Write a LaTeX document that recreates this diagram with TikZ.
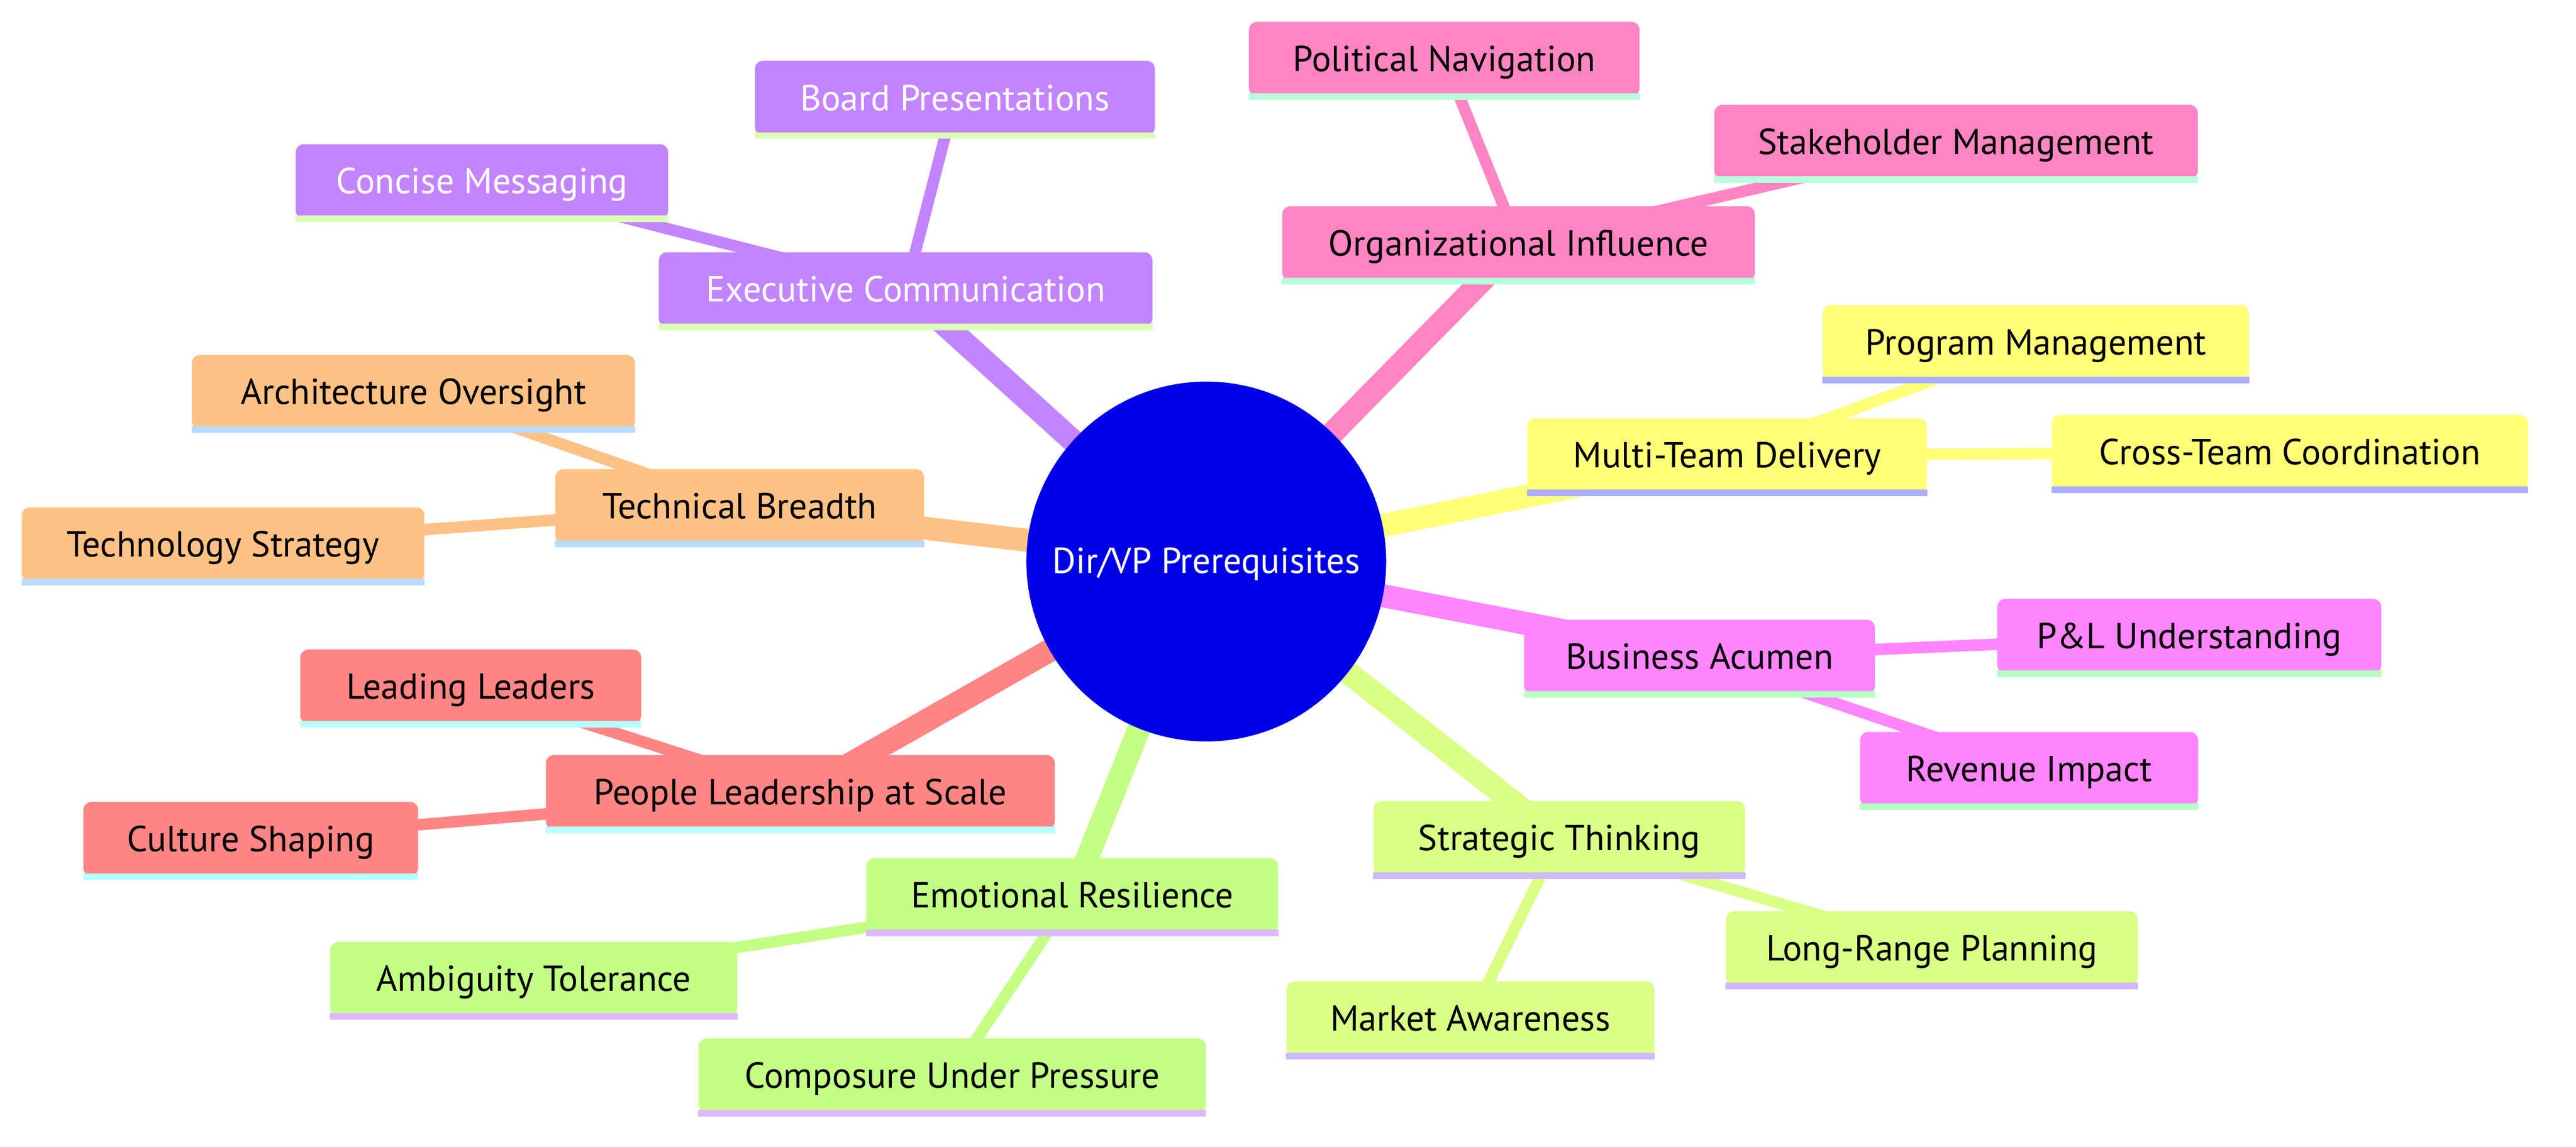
\documentclass[tikz,border=0pt]{standalone}
\usepackage{fontspec}
\setmainfont{PT Sans}
\usepackage{tikz}
\usetikzlibrary{backgrounds}
\definecolor{fillroot}{RGB}{0, 0, 232}
\definecolor{fillpink}{RGB}{255, 133, 194}
\definecolor{fillyellow}{RGB}{255, 255, 120}
\definecolor{fillmagenta}{RGB}{255, 133, 255}
\definecolor{filllime}{RGB}{217, 255, 133}
\definecolor{fillgreen}{RGB}{196, 255, 133}
\definecolor{fillsalmon}{RGB}{255, 133, 133}
\definecolor{fillorange}{RGB}{255, 194, 133}
\definecolor{fillpurple}{RGB}{194, 133, 255}
\definecolor{barpink}{RGB}{184, 255, 220}
\definecolor{baryellow}{RGB}{173, 173, 255}
\definecolor{barmagenta}{RGB}{184, 255, 196}
\definecolor{barlime}{RGB}{208, 184, 255}
\definecolor{bargreen}{RGB}{221, 184, 255}
\definecolor{barsalmon}{RGB}{184, 255, 255}
\definecolor{barorange}{RGB}{184, 220, 255}
\definecolor{barpurple}{RGB}{220, 255, 184}
\tikzstyle{branch}=[rectangle, rounded corners=5pt, inner sep=0pt, text centered, minimum height=45.25pt, text height=19pt, text depth=4pt, font=\fontsize{22}{24}\selectfont]
\tikzstyle{topic}=[circle, fill=fillroot, text=white, inner sep=0pt, minimum size=219pt, text height=18pt, text depth=4pt, font=\fontsize{22}{24}\selectfont]
\tikzstyle{bar}=[line width=4pt]
\tikzstyle{trunk}=[line width=14pt]
\tikzstyle{twig}=[line width=7pt]

\begin{document}
\begin{tikzpicture}[node distance=0pt]
      %
      \path[use as bounding box] (0pt,0pt) rectangle (1568pt,-698pt);
      %
      \path node[topic] at (734.25pt,-341.75pt) (root) {Dir/VP Prerequisites};
      %
      % Organizational Influence
      %
      \path node[branch, fill=fillpink, minimum width=287.75pt, right of=root, xshift=190.1pt, yshift=193.6pt] (influence) {Organizational Influence};
      \path node[branch, fill=fillpink, minimum width=237.75pt, left of=influence, xshift=-45.25pt, yshift=112.25pt] (political) {Political Navigation};
      \path node[branch, fill=fillpink, minimum width=294.25pt, right of=influence, xshift=266.25pt, yshift=61.75pt] (stakeholder) {Stakeholder Management};
      \path [draw=barpink, bar] (influence.south west) -- (influence.south east);
      \path [draw=barpink, bar] (political.south west) -- (political.south east);
      \path [draw=barpink, bar] (stakeholder.south west) -- (stakeholder.south east);
      %
      % Multi-Team Delivery
      %
      \path node[branch, fill=fillyellow, minimum width=243.25pt, right of=root, xshift=317.1pt, yshift=64.6pt] (delivery) {Multi-Team Delivery};
      \path node[branch, fill=fillyellow, minimum width=259.5pt, right of=delivery, xshift=187.9pt, yshift=68.75pt] (program) {Program Management};
      \path node[branch, fill=fillyellow, minimum width=289.75pt, right of=delivery, xshift=342.5pt, yshift=2pt] (crossteam) {Cross-Team Coordination};
      \path [draw=baryellow, bar] (delivery.south west) -- (delivery.south east);
      \path [draw=baryellow, bar] (program.south west) -- (program.south east);
      \path [draw=baryellow, bar] (crossteam.south west) -- (crossteam.south east);
      %
      % Business Acumen
      %
      \path node[branch, fill=fillmagenta, minimum width=213.5pt, right of=root, xshift=300.25pt, yshift=-58.1pt] (business) {Business Acumen};
      \path node[branch, fill=fillmagenta, minimum width=233.75pt, right of=business, xshift=298.1pt, yshift=12.75pt] (pnl) {P\&L Understanding};
      \path node[branch, fill=fillmagenta, minimum width=205.75pt, right of=business, xshift=200.6pt, yshift=-68.25pt] (revenue) {Revenue Impact};
      \path [draw=barmagenta, bar] (business.south west) -- (business.south east);
      \path [draw=barmagenta, bar] (pnl.south west) -- (pnl.south east);
      \path [draw=barmagenta, bar] (revenue.south west) -- (revenue.south east);
      %
      % Strategic Thinking
      %
      \path node[branch, fill=filllime, minimum width=226.25pt, right of=root, xshift=214.9pt, yshift=-168.4pt] (strategic) {Strategic Thinking};
      \path node[branch, fill=filllime, minimum width=250.75pt, right of=strategic, xshift=226.75pt, yshift=-67pt] (longrange) {Long-Range Planning};
      \path node[branch, fill=filllime, minimum width=224pt, left of=strategic, xshift=-54.1pt, yshift=-109.75pt] (market) {Market Awareness};
      \path [draw=barlime, bar] (strategic.south west) -- (strategic.south east);
      \path [draw=barlime, bar] (longrange.south west) -- (longrange.south east);
      \path [draw=barlime, bar] (market.south west) -- (market.south east);
      %
      % Emotional Resilience
      %
      \path node[branch, fill=fillgreen, minimum width=250.75pt, left of=root, xshift=-81.6pt, yshift=-203.1pt] (emotional) {Emotional Resilience};
      \path node[branch, fill=fillgreen, minimum width=247.75pt, left of=emotional, xshift=-327.75pt, yshift=-51pt] (ambiguity) {Ambiguity Tolerance};
      \path node[branch, fill=fillgreen, minimum width=308.75pt, left of=emotional, xshift=-73pt, yshift=-109.75pt] (composure) {Composure Under Pressure};
      \path [draw=bargreen, bar] (emotional.south west) -- (emotional.south east);
      \path [draw=bargreen, bar] (ambiguity.south west) -- (ambiguity.south east);
      \path [draw=bargreen, bar] (composure.south west) -- (composure.south east);
      %
      % People Leadership at Scale
      %
      \path node[branch, fill=fillsalmon, minimum width=309.75pt, left of=root, xshift=-247.1pt, yshift=-140.4pt] (people) {People Leadership at Scale};
      \path node[branch, fill=fillsalmon, minimum width=207.5pt, left of=people, xshift=-200.6pt, yshift=64.25pt] (leaders) {Leading Leaders};
      \path node[branch, fill=fillsalmon, minimum width=203.75pt, left of=people, xshift=-334.5pt, yshift=-28.5pt] (culture) {Culture Shaping};
      \path [draw=barsalmon, bar] (people.south west) -- (people.south east);
      \path [draw=barsalmon, bar] (leaders.south west) -- (leaders.south east);
      \path [draw=barsalmon, bar] (culture.south west) -- (culture.south east);
      %
      % Technical Breadth
      %
      \path node[branch, fill=fillorange, minimum width=224.5pt, left of=root, xshift=-284pt, yshift=33.6pt] (technical) {Technical Breadth};
      \path node[branch, fill=fillorange, minimum width=269.75pt, left of=technical, xshift=-198.6pt, yshift=69.5pt] (architecture) {Architecture Oversight};
      \path node[branch, fill=fillorange, minimum width=245pt, left of=technical, xshift=-314.5pt, yshift=-23.25pt] (techstrategy) {Technology Strategy};
      \path [draw=barorange, bar] (technical.south west) -- (technical.south east);
      \path [draw=barorange, bar] (architecture.south west) -- (architecture.south east);
      \path [draw=barorange, bar] (techstrategy.south west) -- (techstrategy.south east);
      %
      % Executive Communication
      %
      \path node[branch, fill=fillpurple, text=white, minimum width=300.5pt, left of=root, xshift=-183pt, yshift=165.6pt] (executive) {Executive Communication};
      \path node[branch, fill=fillpurple, text=white, minimum width=226.75pt, left of=executive, xshift=-257.9pt, yshift=65.75pt] (concise) {Concise Messaging};
      \path node[branch, fill=fillpurple, text=white, minimum width=243.5pt, right of=executive, xshift=30pt, yshift=116.5pt] (board) {Board Presentations};
      \path [draw=barpurple, bar] (executive.south west) -- (executive.south east);
      \path [draw=barpurple, bar] (concise.south west) -- (concise.south east);
      \path [draw=barpurple, bar] (board.south west) -- (board.south east);
      %
      % Connectors sit behind the boxes
      %
      \begin{scope}[on background layer]
      \path [draw=fillpink, trunk] (root.center) -- (influence.center);
      \path [draw=fillpink, twig] (influence.center) -- (political.center);
      \path [draw=fillpink, twig] (influence.center) -- (stakeholder.center);
      \path [draw=fillyellow, trunk] (root.center) -- (delivery.center);
      \path [draw=fillyellow, twig] (delivery.center) -- (program.center);
      \path [draw=fillyellow, twig] (delivery.center) -- (crossteam.center);
      \path [draw=fillmagenta, trunk] (root.center) -- (business.center);
      \path [draw=fillmagenta, twig] (business.center) -- (pnl.center);
      \path [draw=fillmagenta, twig] (business.center) -- (revenue.center);
      \path [draw=filllime, trunk] (root.center) -- (strategic.center);
      \path [draw=filllime, twig] (strategic.center) -- (longrange.center);
      \path [draw=filllime, twig] (strategic.center) -- (market.center);
      \path [draw=fillgreen, trunk] (root.center) -- (emotional.center);
      \path [draw=fillgreen, twig] (emotional.center) -- (ambiguity.center);
      \path [draw=fillgreen, twig] (emotional.center) -- (composure.center);
      \path [draw=fillsalmon, trunk] (root.center) -- (people.center);
      \path [draw=fillsalmon, twig] (people.center) -- (leaders.center);
      \path [draw=fillsalmon, twig] (people.center) -- (culture.center);
      \path [draw=fillorange, trunk] (root.center) -- (technical.center);
      \path [draw=fillorange, twig] (technical.center) -- (architecture.center);
      \path [draw=fillorange, twig] (technical.center) -- (techstrategy.center);
      \path [draw=fillpurple, trunk] (root.center) -- (executive.center);
      \path [draw=fillpurple, twig] (executive.center) -- (concise.center);
      \path [draw=fillpurple, twig] (executive.center) -- (board.center);
      \end{scope}
      %
    \end{tikzpicture}
\end{document}
